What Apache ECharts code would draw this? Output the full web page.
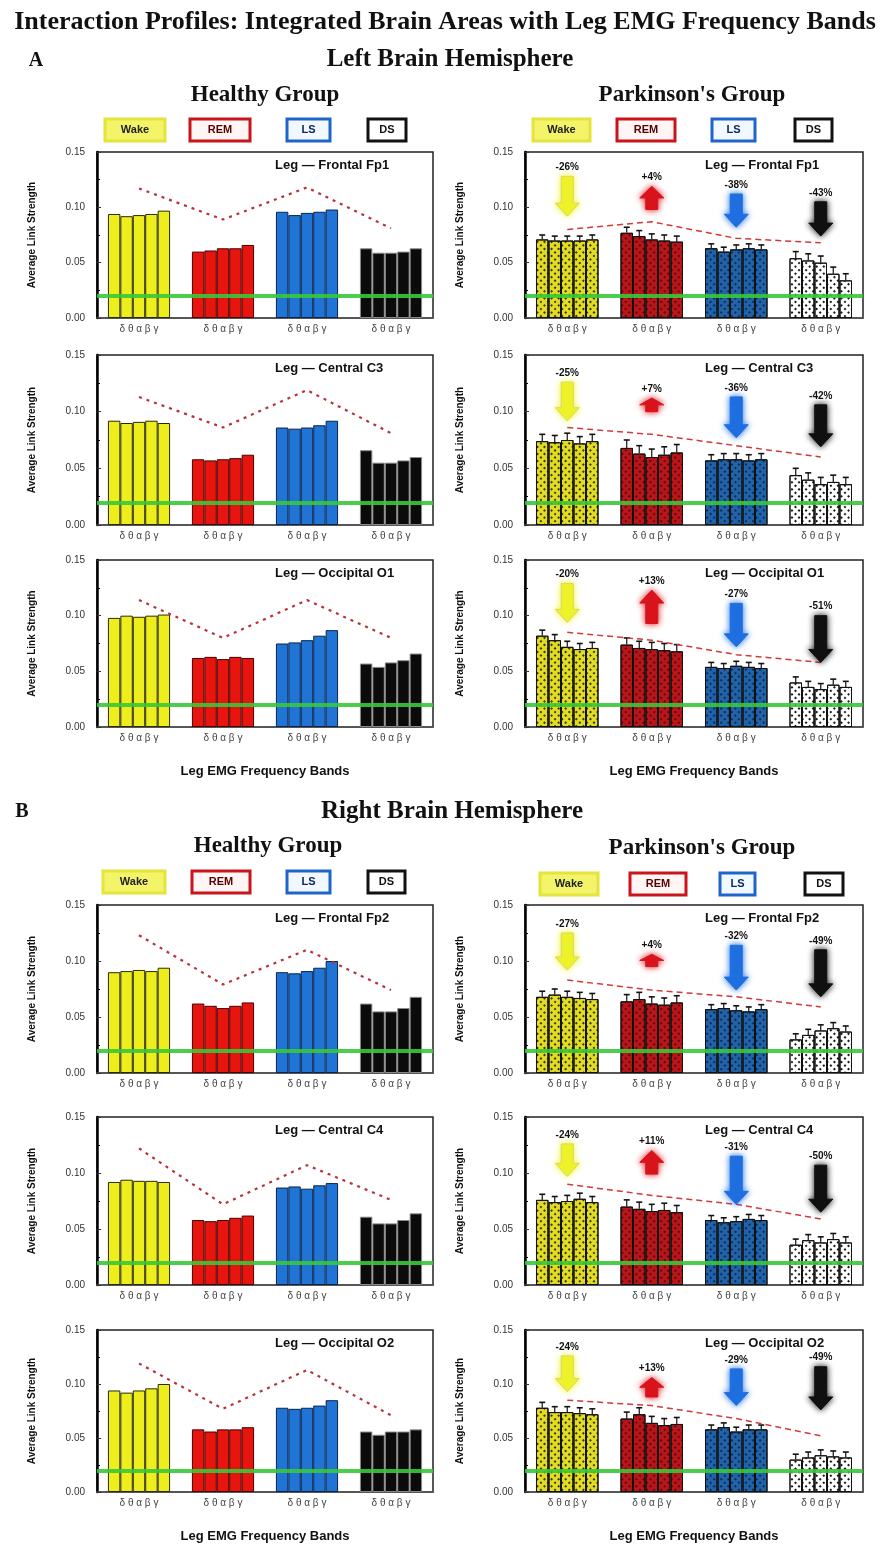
<!DOCTYPE html>
<html>
<head>
<meta charset="utf-8">
<title>Interaction Profiles</title>
<script src="https://cdn.jsdelivr.net/npm/echarts@6/dist/echarts.min.js"></script>
<style>
  html, body { margin: 0; padding: 0; background: #fff; }
  #chart { width: 890px; height: 1544px; }
</style>
</head>
<body>
<div id="chart"></div>
<script>
// categories / ticks
const stages = ['Wake', 'REM', 'LS', 'DS'];
const bandTicks = ['δ θ α β γ', 'δ θ α β γ', 'δ θ α β γ', 'δ θ α β γ'];
const yTicks = [0, 0.05, 0.10, 0.15];
// green reference line, one per row (left hemisphere rows, then right)
const thresholdLevels = [0.016, 0.019, 0.020, 0.018, 0.019, 0.019];

// ---- Left hemisphere, healthy (rows: Wake, REM, LS, DS; 5 bands each)
const lhFp1 = [[0.094, 0.092, 0.093, 0.094, 0.097], [0.060, 0.061, 0.063, 0.063, 0.066], [0.096, 0.093, 0.095, 0.096, 0.098], [0.063, 0.059, 0.059, 0.060, 0.063]];
const lhFp1Trend = [0.117, 0.089, 0.118, 0.081];
const lhC3 = [[0.092, 0.090, 0.091, 0.092, 0.090], [0.058, 0.057, 0.058, 0.059, 0.062], [0.086, 0.085, 0.086, 0.088, 0.092], [0.066, 0.055, 0.055, 0.057, 0.060]];
const lhC3Trend = [0.113, 0.086, 0.119, 0.081];
const lhO1 = [[0.098, 0.100, 0.099, 0.100, 0.101], [0.062, 0.063, 0.061, 0.063, 0.062], [0.075, 0.076, 0.078, 0.082, 0.087], [0.057, 0.054, 0.058, 0.060, 0.066]];
const lhO1Trend = [0.114, 0.080, 0.114, 0.080];

// ---- Left hemisphere, Parkinson's
const lpFp1 = [[0.071, 0.070, 0.070, 0.070, 0.071], [0.077, 0.074, 0.071, 0.070, 0.069], [0.063, 0.060, 0.062, 0.063, 0.062], [0.054, 0.052, 0.050, 0.040, 0.034]];
const lpFp1Trend = [0.080, 0.087, 0.072, 0.068];
const lpFp1Err = [0.004, 0.005, 0.004, 0.006];
const lpFp1Arrows = [[0.128, 0.092], [0.098, 0.119], [0.112, 0.082], [0.105, 0.074]];
const lpFp1Pct = ['-26%', '+4%', '-38%', '-43%'];

const lpC3 = [[0.074, 0.073, 0.075, 0.072, 0.074], [0.068, 0.063, 0.060, 0.062, 0.064], [0.057, 0.058, 0.058, 0.057, 0.058], [0.044, 0.040, 0.036, 0.038, 0.036]];
const lpC3Trend = [0.086, 0.080, 0.070, 0.060];
const lpC3Err = [0.006, 0.007, 0.005, 0.006];
const lpC3Arrows = [[0.126, 0.092], [0.100, 0.112], [0.113, 0.077], [0.106, 0.069]];
const lpC3Pct = ['-25%', '+7%', '-36%', '-42%'];

const lpO1 = [[0.082, 0.078, 0.072, 0.070, 0.071], [0.074, 0.071, 0.070, 0.069, 0.068], [0.054, 0.053, 0.055, 0.054, 0.053], [0.040, 0.036, 0.034, 0.038, 0.036]];
const lpO1Trend = [0.085, 0.078, 0.065, 0.058];
const lpO1Err = [0.005, 0.006, 0.004, 0.005];
const lpO1Arrows = [[0.129, 0.094], [0.093, 0.123], [0.111, 0.072], [0.100, 0.058]];
const lpO1Pct = ['-20%', '+13%', '-27%', '-51%'];

// ---- Right hemisphere, healthy
const rhFp2 = [[0.090, 0.091, 0.092, 0.091, 0.094], [0.062, 0.060, 0.058, 0.060, 0.063], [0.090, 0.089, 0.091, 0.094, 0.100], [0.062, 0.055, 0.055, 0.058, 0.068]];
const rhFp2Trend = [0.123, 0.079, 0.110, 0.074];
const rhC4 = [[0.092, 0.094, 0.093, 0.093, 0.092], [0.058, 0.057, 0.058, 0.060, 0.062], [0.087, 0.088, 0.086, 0.089, 0.091], [0.061, 0.055, 0.055, 0.058, 0.064]];
const rhC4Trend = [0.122, 0.072, 0.107, 0.076];
const rhO2 = [[0.094, 0.092, 0.094, 0.096, 0.100], [0.058, 0.056, 0.058, 0.058, 0.060], [0.078, 0.077, 0.078, 0.080, 0.085], [0.056, 0.053, 0.056, 0.056, 0.058]];
const rhO2Trend = [0.119, 0.077, 0.113, 0.071];

// ---- Right hemisphere, Parkinson's
const rpFp2 = [[0.068, 0.070, 0.068, 0.067, 0.066], [0.064, 0.066, 0.062, 0.061, 0.063], [0.057, 0.058, 0.056, 0.055, 0.057], [0.030, 0.034, 0.038, 0.040, 0.037]];
const rpFp2Trend = [0.083, 0.074, 0.068, 0.059];
const rpFp2Err = [0.005, 0.006, 0.004, 0.005];
const rpFp2Arrows = [[0.125, 0.092], [0.095, 0.106], [0.114, 0.074], [0.110, 0.068]];
const rpFp2Pct = ['-27%', '+4%', '-32%', '-49%'];

const rpC4 = [[0.076, 0.074, 0.075, 0.077, 0.074], [0.070, 0.068, 0.066, 0.067, 0.065], [0.058, 0.056, 0.057, 0.059, 0.058], [0.036, 0.040, 0.038, 0.041, 0.038]];
const rpC4Trend = [0.090, 0.080, 0.072, 0.059];
const rpC4Err = [0.005, 0.006, 0.004, 0.005];
const rpC4Arrows = [[0.126, 0.097], [0.099, 0.120], [0.115, 0.072], [0.107, 0.065]];
const rpC4Pct = ['-24%', '+11%', '-31%', '-50%'];

const rpO2 = [[0.078, 0.074, 0.074, 0.073, 0.072], [0.068, 0.072, 0.064, 0.062, 0.063], [0.058, 0.060, 0.056, 0.058, 0.058], [0.030, 0.032, 0.034, 0.033, 0.032]];
const rpO2Trend = [0.085, 0.080, 0.068, 0.052];
const rpO2Err = [0.005, 0.006, 0.004, 0.005];
const rpO2Arrows = [[0.126, 0.093], [0.088, 0.106], [0.114, 0.080], [0.116, 0.076]];
const rpO2Pct = ['-24%', '+13%', '-29%', '-49%'];

// ---- styles
const SANS = 'Liberation Sans, Arial, sans-serif';
const SERIF = 'Liberation Serif, Times New Roman, serif';
const healthyColors = ['#eeee1c', '#e8140e', '#1f74d6', '#0b0b0b'];
const healthyBorders = ['#2a2a00', '#4a0000', '#08244f', '#8a8a8a'];
const pdColors = ['#e2dd22', '#b8161a', '#2063a8', '#ffffff'];
const pdDecal = ['rgba(0,0,0,0.75)', 'rgba(60,0,0,0.7)', 'rgba(0,20,60,0.7)', 'rgba(0,0,0,0.9)'];
const arrowColors = ['#eef22a', '#d8141c', '#1f6fe0', '#111111'];
const BAR_GAP = 0.26;

const rowTops = [152, 355, 560, 905, 1117, 1330];
const rowHeights = [166, 170, 167, 168, 168, 170];
const colLeft = { h: 97, p: 525 };
const colWidth = { h: 336, p: 338 };

const panels = [
  { col: 'h', row: 0, bars: lhFp1, trend: lhFp1Trend, name: 'Leg — Frontal Fp1' },
  { col: 'p', row: 0, bars: lpFp1, trend: lpFp1Trend, err: lpFp1Err, arrows: lpFp1Arrows, pct: lpFp1Pct, name: 'Leg — Frontal Fp1' },
  { col: 'h', row: 1, bars: lhC3, trend: lhC3Trend, name: 'Leg — Central C3' },
  { col: 'p', row: 1, bars: lpC3, trend: lpC3Trend, err: lpC3Err, arrows: lpC3Arrows, pct: lpC3Pct, name: 'Leg — Central C3' },
  { col: 'h', row: 2, bars: lhO1, trend: lhO1Trend, name: 'Leg — Occipital O1', xName: true },
  { col: 'p', row: 2, bars: lpO1, trend: lpO1Trend, err: lpO1Err, arrows: lpO1Arrows, pct: lpO1Pct, name: 'Leg — Occipital O1', xName: true },
  { col: 'h', row: 3, bars: rhFp2, trend: rhFp2Trend, name: 'Leg — Frontal Fp2' },
  { col: 'p', row: 3, bars: rpFp2, trend: rpFp2Trend, err: rpFp2Err, arrows: rpFp2Arrows, pct: rpFp2Pct, name: 'Leg — Frontal Fp2' },
  { col: 'h', row: 4, bars: rhC4, trend: rhC4Trend, name: 'Leg — Central C4' },
  { col: 'p', row: 4, bars: rpC4, trend: rpC4Trend, err: rpC4Err, arrows: rpC4Arrows, pct: rpC4Pct, name: 'Leg — Central C4' },
  { col: 'h', row: 5, bars: rhO2, trend: rhO2Trend, name: 'Leg — Occipital O2', xName: true },
  { col: 'p', row: 5, bars: rpO2, trend: rpO2Trend, err: rpO2Err, arrows: rpO2Arrows, pct: rpO2Pct, name: 'Leg — Occipital O2', xName: true }
];

const grids = [], xAxes = [], yAxes = [], series = [], graphics = [];

function errRenderer(err) {
  return function (params, api) {
    const cat = api.value(0), band = api.value(1), v = api.value(2);
    const e = err[cat];
    const bw = api.size([1, 0])[0];
    const groupW = bw * (1 - BAR_GAP);
    const barW = groupW / 5;
    const base = api.coord([cat, v]);
    const top = api.coord([cat, v + e])[1];
    const x = base[0] - groupW / 2 + barW * (band + 0.5);
    return {
      type: 'group',
      children: [
        { type: 'line', shape: { x1: x, y1: base[1], x2: x, y2: top }, style: { stroke: '#111', lineWidth: 1.2 } },
        { type: 'line', shape: { x1: x - 3, y1: top, x2: x + 3, y2: top }, style: { stroke: '#111', lineWidth: 1.6 } }
      ]
    };
  };
}

function arrowRenderer(pct) {
  return function (params, api) {
    const cat = api.value(0), from = api.value(1), to = api.value(2);
    const p1 = api.coord([cat, from]);
    const p2 = api.coord([cat, to]);
    const dir = p2[1] > p1[1] ? 1 : -1;
    const len = Math.abs(p2[1] - p1[1]);
    const head = Math.min(13, len * 0.5);
    const sw = 6, hw = 12;
    const x = p1[0];
    const yBase = p2[1] - dir * head;
    const pts = [[x - sw, p1[1]], [x + sw, p1[1]], [x + sw, yBase], [x + hw, yBase], [x, p2[1]], [x - hw, yBase], [x - sw, yBase]];
    const labelY = api.coord([cat, Math.max(from, to)])[1] - 4;
    return {
      type: 'group',
      children: [
        { type: 'polygon', shape: { points: pts }, style: { fill: arrowColors[cat], stroke: cat === 0 ? '#d8d860' : arrowColors[cat], lineWidth: 1, shadowBlur: 6, shadowColor: arrowColors[cat] } },
        { type: 'text', x: x, y: labelY, style: { text: pct[cat], textAlign: 'center', textVerticalAlign: 'bottom', font: 'bold 10px ' + SANS, fill: '#111' } }
      ]
    };
  };
}

panels.forEach(function (p, i) {
  const left = colLeft[p.col], width = colWidth[p.col];
  const top = rowTops[p.row], height = rowHeights[p.row];
  grids.push({ left: left, top: top, width: width, height: height, show: true, borderColor: '#222', borderWidth: 1.5, containLabel: false });
  xAxes.push({
    type: 'category', gridIndex: i, data: stages,
    axisLine: { lineStyle: { color: '#555', width: 1.5 } },
    axisTick: { show: false },
    axisLabel: { formatter: function (v, idx) { return bandTicks[idx]; }, fontFamily: SANS, fontSize: 10, color: '#444', margin: 6 },
    name: p.xName ? 'Leg EMG Frequency Bands' : '',
    nameLocation: 'middle', nameGap: 38,
    nameTextStyle: { fontFamily: SANS, fontWeight: 'bold', fontSize: 13, color: '#111' }
  });
  yAxes.push({
    type: 'value', gridIndex: i,
    min: yTicks[0], max: yTicks[yTicks.length - 1], interval: yTicks[1] - yTicks[0],
    axisLine: { show: true, lineStyle: { color: '#000', width: 2.5 } },
    axisTick: { show: true, inside: true, length: 4, lineStyle: { color: '#333' } },
    minorTick: { show: true, splitNumber: 2, length: 3 },
    splitLine: { show: false },
    axisLabel: { formatter: function (v) { return v.toFixed(2); }, fontFamily: SANS, fontSize: 10, color: '#333', margin: 12 },
    name: 'Average Link Strength', nameLocation: 'middle', nameGap: 60, nameRotate: 90,
    nameTextStyle: { fontFamily: SANS, fontWeight: 'bold', fontSize: 10, color: '#111' }
  });

  const isPD = p.col === 'p';
  for (let b = 0; b < 5; b++) {
    const data = stages.map(function (s, c) {
      const item = { value: p.bars[c][b] };
      if (isPD) {
        item.itemStyle = {
          color: pdColors[c], borderColor: '#111', borderWidth: 1,
          decal: { symbol: 'rect', symbolSize: 1, color: pdDecal[c], dashArrayX: [2, 3], dashArrayY: [2, 3], rotation: Math.PI / 4 }
        };
      } else {
        item.itemStyle = { color: healthyColors[c], borderColor: healthyBorders[c], borderWidth: 1 };
      }
      return item;
    });
    const s = {
      type: 'bar', xAxisIndex: i, yAxisIndex: i, data: data,
      barGap: '0%', barCategoryGap: (BAR_GAP * 100) + '%', silent: true
    };
    if (b === 0) {
      s.markLine = {
        silent: true, symbol: ['none', 'none'], label: { show: false },
        lineStyle: { color: '#38c83a', width: 4, type: 'solid', opacity: 0.9 },
        data: [{ yAxis: thresholdLevels[p.row] }]
      };
    }
    series.push(s);
  }
  series.push({
    type: 'line', xAxisIndex: i, yAxisIndex: i, data: p.trend, symbol: 'none', silent: true, z: 5,
    lineStyle: isPD ? { color: '#d23a3a', width: 1.5, type: [6, 4] } : { color: '#b8343a', width: 2.2, type: [3, 5] }
  });
  if (isPD) {
    const errData = [];
    p.bars.forEach(function (row, c) { row.forEach(function (v, b) { errData.push([c, b, v]); }); });
    series.push({ type: 'custom', xAxisIndex: i, yAxisIndex: i, data: errData, renderItem: errRenderer(p.err), encode: { x: 0, y: 2 }, silent: true, z: 4 });
    const arrowData = p.arrows.map(function (a, c) { return [c, a[0], a[1]]; });
    series.push({ type: 'custom', xAxisIndex: i, yAxisIndex: i, data: arrowData, renderItem: arrowRenderer(p.pct), encode: { x: 0, y: [1, 2] }, silent: true, z: 6 });
  }
  graphics.push({
    type: 'text', left: left + width - 8 - 150, top: top + 7,
    style: { text: p.name, font: 'bold 13px ' + SANS, fill: '#111', width: 150, align: 'right' }
  });
});

// headings
function heading(text, cx, y, size, family) {
  return { type: 'text', x: cx, y: y, style: { text: text, font: 'bold ' + size + 'px ' + family, fill: '#111', textAlign: 'center', textVerticalAlign: 'middle' } };
}
graphics.push(heading('Interaction Profiles: Integrated Brain Areas with Leg EMG Frequency Bands', 445, 22, 26, SERIF));
graphics.push(heading('A', 36, 61, 20, SERIF));
graphics.push(heading('Left Brain Hemisphere', 450, 60, 25, SERIF));
graphics.push(heading('Healthy Group', 265, 95, 23, SERIF));
graphics.push(heading("Parkinson's Group", 692, 95, 23, SERIF));
graphics.push(heading('B', 22, 812, 20, SERIF));
graphics.push(heading('Right Brain Hemisphere', 452, 812, 25, SERIF));
graphics.push(heading('Healthy Group', 268, 846, 23, SERIF));
graphics.push(heading("Parkinson's Group", 702, 848, 23, SERIF));

// legend boxes
const legendStyle = [
  { fill: '#f4f46a', stroke: '#e4e43a', text: '#222' },
  { fill: '#fff5f5', stroke: '#c8141a', text: '#5a0000' },
  { fill: '#f2f8ff', stroke: '#1f64cc', text: '#0a2a60' },
  { fill: '#ffffff', stroke: '#111111', text: '#111' }
];
function legendRow(xs, y) {
  xs.forEach(function (xr, k) {
    const st = legendStyle[k];
    graphics.push({ type: 'rect', shape: { x: xr[0], y: y, width: xr[1] - xr[0], height: 22 }, style: { fill: st.fill, stroke: st.stroke, lineWidth: 3 } });
    graphics.push({ type: 'text', x: (xr[0] + xr[1]) / 2, y: y + 11, style: { text: stages[k], font: 'bold 11px ' + SANS, fill: st.text, textAlign: 'center', textVerticalAlign: 'middle' } });
  });
}
legendRow([[105, 165], [190, 250], [287, 330], [368, 406]], 119);
legendRow([[533, 590], [617, 675], [712, 755], [795, 832]], 119);
legendRow([[103, 165], [192, 250], [287, 330], [368, 405]], 871);
legendRow([[540, 598], [630, 686], [720, 755], [805, 843]], 873);

const chart = echarts.init(document.getElementById('chart'));
chart.setOption({
  animation: false,
  backgroundColor: '#fff',
  grid: grids,
  xAxis: xAxes,
  yAxis: yAxes,
  series: series,
  graphic: graphics
});
</script>
</body>
</html>
